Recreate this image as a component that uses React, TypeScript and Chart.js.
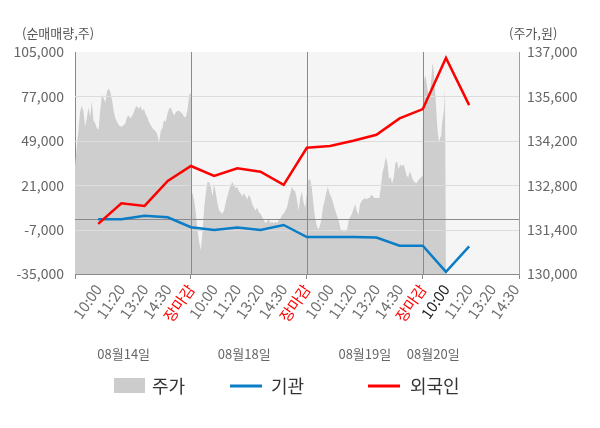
import React, { useEffect, useRef } from 'react';
import { Chart, registerables } from 'chart.js';

Chart.register(...registerables);

const TIME_LABELS = [
  '10:00', '11:20', '13:20', '14:30', '장마감',
  '10:00', '11:20', '13:20', '14:30', '장마감',
  '10:00', '11:20', '13:20', '14:30', '장마감',
  '10:00', '11:20', '13:20', '14:30',
];
const CURRENT_LABEL_INDEX = 15;
const DAY_LABELS = ['08월14일', '08월18일', '08월19일', '08월20일'];
const DAY_LABEL_POS = [2.1, 7.3, 12.5, 15.45];

const INSTITUTION = [
  -400, -400, 1800, 800, -5500,
  -7200, -5700, -7200, -4100, -11700,
  -11700, -11700, -12000, -17200, -17200,
  -33700, -17600,
];
const FOREIGN = [
  -3400, 9600, 7900, 23700, 33100,
  26800, 31700, 29500, 21200, 44600,
  45700, 49000, 52800, 63100, 69000,
  101200, 71500,
];

const PRICE_DAY1 = [
  133400, 134000, 134500, 135100, 135300, 135150, 134650, 134900, 135250, 134950,
  135450, 134850, 134750, 134600, 134550, 135150, 135650, 135550, 135400, 135750,
  135850, 135750, 135500, 135150, 134900, 134800, 134700, 134650, 134650, 134700,
  134750, 134950, 135000, 134900, 135000, 135100, 135250, 135300, 135200, 135300,
  135150, 135200, 135050, 134950, 134800, 134700, 134600, 134550, 134500, 134400,
  134150, 134500, 134600, 134850, 134800, 135050, 135200, 135250, 135100, 135000,
  135100, 135150, 135150, 135100, 135050, 134950, 134950, 135200, 135650, 135700,
];
const PRICE_DAY2 = [
  132600, 132550, 132300, 131900, 131350, 131000, 130750, 131350, 132100, 132550,
  132900, 132900, 132750, 132450, 132850, 132550, 132250, 132000, 131950, 131900,
  132000, 132250, 132450, 132650, 132800, 132900, 132800, 132700, 132750, 132600,
  132550, 132450, 132550, 132450, 132350, 132500, 132400, 132200, 132100, 132000,
  132100, 131950, 131900, 131800, 131700, 131600, 131650, 131750, 131600, 131650,
  131600, 131650, 131600, 131700, 131750, 131850, 131900, 132000, 132100, 132350,
  132550, 132750, 132650, 132600, 132350, 132000, 132400, 132600, 132250, 132100,
  132550,
];
const PRICE_DAY3 = [
  132850, 132950, 133000, 132750, 132250, 131800, 131550, 131400, 131500, 131700,
  132100, 132300, 132550, 132750, 132550, 132450, 132300, 132100, 131950, 131800,
  131650, 131400, 131350, 131350, 131350, 131400, 131700, 131800, 131900, 132050,
  132200, 132000, 131850, 132200, 132300, 132350, 132400, 132350, 132400, 132400,
  132500, 132450, 132400, 132400, 132400, 132400, 132750, 133200, 133400, 133700,
  133500, 133000, 133050, 132850, 133050, 133500, 133550, 133300, 133450, 133400,
  133450, 133300, 133100, 133050, 133250, 133100, 132950, 132900, 132850, 132950,
  133000, 133050, 133100,
];
const PRICE_DAY4 = [
  134550, 136050, 136200, 136250, 136000, 135800, 135700, 135450, 135900, 136200,
  136650, 136500, 136100, 135700, 135150, 134650, 134350, 134150, 134300, 134350,
  134750, 134950, 135200, 135850, 135850,
];

const LEFT_MIN = -35000;
const LEFT_MAX = 105000;
const LEFT_STEP = 28000;
const RIGHT_MIN = 130000;
const RIGHT_MAX = 137000;
const RIGHT_STEP = 1400;

const SLOTS_PER_DAY = 5;
const PRICE_DAYS = [PRICE_DAY1, PRICE_DAY2, PRICE_DAY3, PRICE_DAY4];
const PRICE_DAY_SPANS = [5, 5, 5, 1];
const X_MAX = 19.15;

const FONT = "'Noto Sans CJK KR', 'Noto Sans', sans-serif";

function buildPrice() {
  const pts: { x: number; y: number }[] = [];
  PRICE_DAYS.forEach((arr, d) => {
    const span = PRICE_DAY_SPANS[d];
    arr.forEach((v, i) => {
      pts.push({ x: d * SLOTS_PER_DAY + (span * i) / (arr.length - 1), y: v });
    });
  });
  return pts;
}

function buildLine(values: number[]) {
  return values.map((v, i) => ({ x: i + 1, y: v }));
}

const bgPlugin = {
  id: 'bgPlugin',
  beforeDraw(chart: any) {
    const { ctx, chartArea } = chart;
    ctx.save();
    ctx.fillStyle = '#f5f5f5';
    ctx.fillRect(chartArea.left, chartArea.top, chartArea.right - chartArea.left, chartArea.bottom - chartArea.top);
    ctx.restore();
  },
};

const gridPlugin = {
  id: 'gridPlugin',
  afterDatasetDraw(chart: any, args: any) {
    if (args.index !== 0) return;
    const { ctx, chartArea } = chart;
    const y = chart.scales.y;
    const x = chart.scales.x;
    ctx.save();
    ctx.lineWidth = 1;
    ctx.strokeStyle = '#dcdcdc';
    for (let v = LEFT_MIN + LEFT_STEP; v < LEFT_MAX; v += LEFT_STEP) {
      const py = Math.round(y.getPixelForValue(v)) + 0.5;
      ctx.beginPath();
      ctx.moveTo(chartArea.left, py);
      ctx.lineTo(chartArea.right, py);
      ctx.stroke();
    }
    ctx.strokeStyle = '#8a8a8a';
    const pz = Math.round(y.getPixelForValue(0)) + 0.5;
    ctx.beginPath();
    ctx.moveTo(chartArea.left, pz);
    ctx.lineTo(chartArea.right, pz);
    ctx.stroke();
    for (let d = 1; d < PRICE_DAYS.length; d++) {
      const px = Math.round(x.getPixelForValue(d * SLOTS_PER_DAY)) + 0.5;
      ctx.beginPath();
      ctx.moveTo(px, chartArea.top);
      ctx.lineTo(px, chartArea.bottom);
      ctx.stroke();
    }
    ctx.restore();
  },
};

const textPlugin = {
  id: 'textPlugin',
  afterDraw(chart: any) {
    const { ctx } = chart;
    const x = chart.scales.x;
    ctx.save();
    ctx.textBaseline = 'middle';
    ctx.font = `13px ${FONT}`;
    ctx.fillStyle = '#555';
    ctx.textAlign = 'left';
    ctx.fillText('(순매매량,주)', 22, 33);
    ctx.fillText('(주가,원)', 509, 33);
    ctx.fillStyle = '#666';
    ctx.textAlign = 'center';
    DAY_LABELS.forEach((t, i) => {
      ctx.fillText(t, x.getPixelForValue(DAY_LABEL_POS[i]), 354);
    });
    ctx.font = `18px ${FONT}`;
    ctx.textAlign = 'left';
    ctx.fillStyle = '#cccccc';
    ctx.fillRect(114, 378, 31, 15);
    ctx.fillStyle = '#333';
    ctx.fillText('주가', 152, 386);
    ctx.strokeStyle = '#0b7dc6';
    ctx.lineWidth = 3;
    ctx.beginPath();
    ctx.moveTo(230, 386);
    ctx.lineTo(262, 386);
    ctx.stroke();
    ctx.fillText('기관', 271, 386);
    ctx.strokeStyle = '#ff0000';
    ctx.beginPath();
    ctx.moveTo(368, 386);
    ctx.lineTo(400, 386);
    ctx.stroke();
    ctx.fillText('외국인', 410, 386);
    ctx.restore();
  },
};

export default function App() {
  const ref = useRef<HTMLCanvasElement | null>(null);
  useEffect(() => {
    if (!ref.current) return;
    Chart.defaults.font.family = FONT;
    const chart = new Chart(ref.current, {
      type: 'line',
      data: {
        datasets: [
          {
            label: '주가',
            data: buildPrice(),
            yAxisID: 'y1',
            fill: 'start',
            backgroundColor: '#cecece',
            borderWidth: 0,
            pointRadius: 0,
            tension: 0,
            order: 3,
          },
          {
            label: '기관',
            data: buildLine(INSTITUTION),
            yAxisID: 'y',
            borderColor: '#0b7dc6',
            borderWidth: 2.5,
            pointRadius: 0,
            fill: false,
            tension: 0,
            order: 2,
          },
          {
            label: '외국인',
            data: buildLine(FOREIGN),
            yAxisID: 'y',
            borderColor: '#ff0000',
            borderWidth: 2.5,
            pointRadius: 0,
            fill: false,
            tension: 0,
            order: 1,
          },
        ],
      },
      options: {
        animation: false,
        responsive: false,
        events: [],
        layout: { padding: { top: 52, left: 0, right: 0, bottom: 0 } },
        plugins: { legend: { display: false }, tooltip: { enabled: false } },
        scales: {
          x: {
            type: 'linear',
            min: 0,
            max: X_MAX,
            afterBuildTicks: (s: any) => {
              const vals = [0, ...TIME_LABELS.map((_, i) => i + 1), X_MAX];
              s.ticks = vals.map((v) => ({ value: v }));
            },
            afterFit: (s: any) => {
              s.height = 154;
            },
            grid: {
              display: true,
              drawOnChartArea: false,
              drawTicks: true,
              tickLength: 5,
              color: (c: any) => {
                const v = c.tick ? c.tick.value : -1;
                return v === 0 || v === X_MAX || (v > 0 && v % SLOTS_PER_DAY === 0) ? '#8a8a8a' : 'rgba(0,0,0,0)';
              },
            },
            border: { display: true, color: '#8a8a8a' },
            ticks: {
              autoSkip: false,
              minRotation: 55,
              maxRotation: 55,
              padding: 2,
              font: { size: 15 },
              color: (c: any) => {
                const v = c.tick ? c.tick.value : 0;
                const lbl = TIME_LABELS[v - 1];
                if (lbl === '장마감') return '#ff0000';
                if (v - 1 === CURRENT_LABEL_INDEX) return '#222';
                return '#707070';
              },
              callback: (v: any) => {
                const n = Number(v);
                return Number.isInteger(n) && n >= 1 && n <= TIME_LABELS.length ? TIME_LABELS[n - 1] : '';
              },
            },
          },
          y: {
            type: 'linear',
            position: 'left',
            min: LEFT_MIN,
            max: LEFT_MAX,
            afterFit: (s: any) => {
              s.width = 75;
            },
            ticks: {
              stepSize: LEFT_STEP,
              padding: 11,
              font: { size: 14 },
              color: '#666',
              callback: (v: any) => Number(v).toLocaleString('en-US'),
            },
            grid: { display: false, drawTicks: false },
            border: { display: true, color: '#8a8a8a' },
          },
          y1: {
            type: 'linear',
            position: 'right',
            min: RIGHT_MIN,
            max: RIGHT_MAX,
            afterFit: (s: any) => {
              s.width = 81;
            },
            ticks: {
              stepSize: RIGHT_STEP,
              padding: 8,
              font: { size: 14 },
              color: '#666',
              callback: (v: any) => Number(v).toLocaleString('en-US'),
            },
            grid: { display: false, drawTicks: false },
            border: { display: true, color: '#a0a0a0' },
          },
        },
      },
      plugins: [bgPlugin, gridPlugin, textPlugin],
    } as any);
    return () => chart.destroy();
  }, []);
  return (
    <div style={{ position: 'absolute', left: 0, top: 0, width: 600, height: 428, background: '#fff' }}>
      <canvas ref={ref} width={600} height={428} style={{ display: 'block' }} />
    </div>
  );
}
